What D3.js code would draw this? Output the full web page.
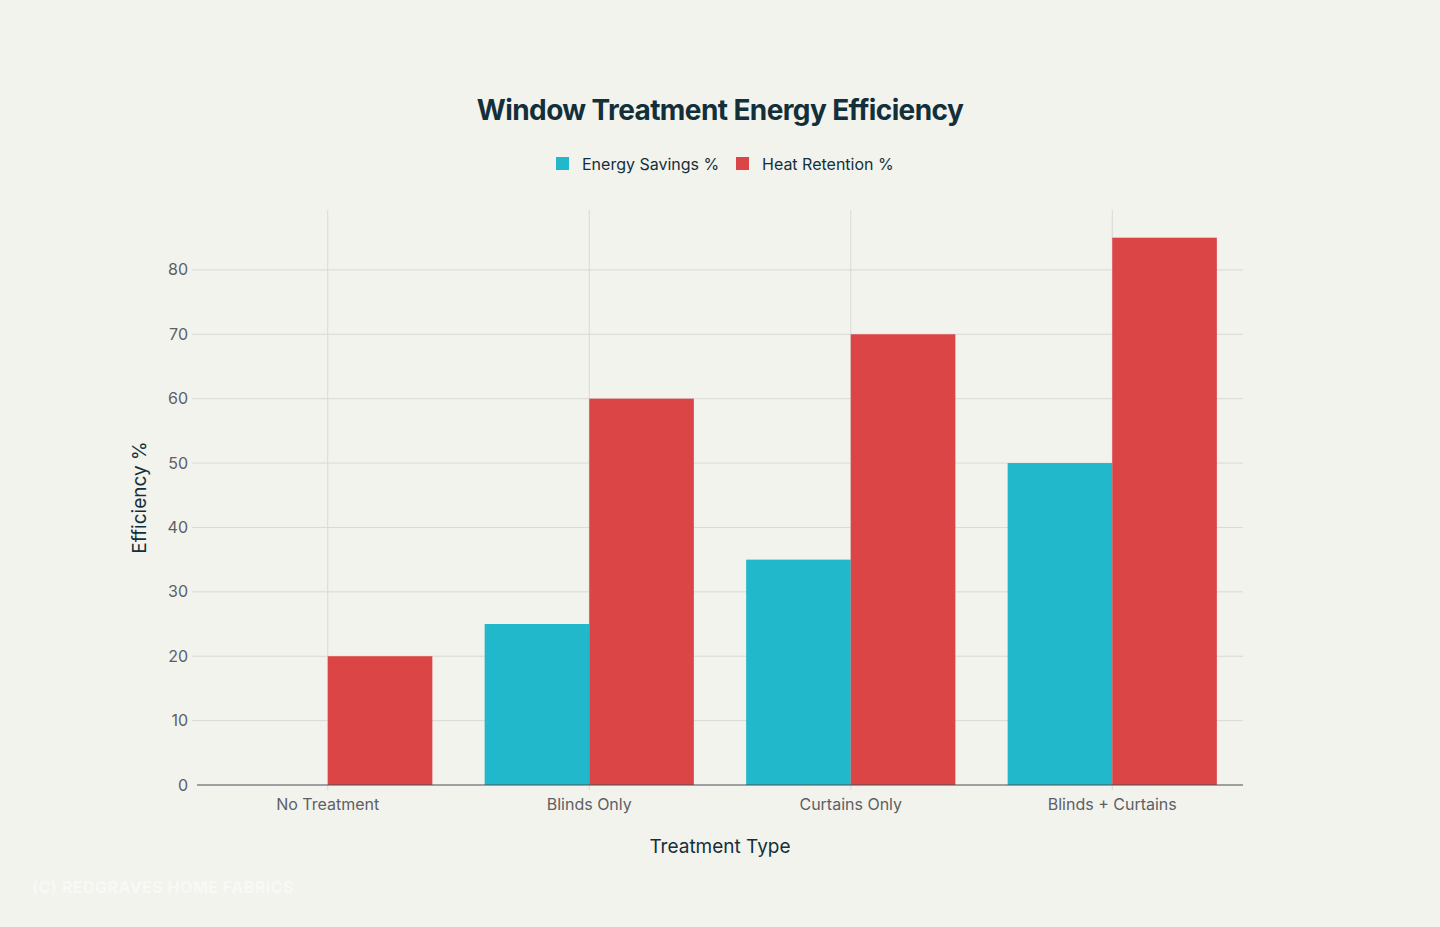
<!DOCTYPE html>
<html>
<head>
<meta charset="utf-8">
<script src="https://cdn.jsdelivr.net/npm/d3@7"></script>
<style>
  body { margin: 0; background: #f3f3ee; }
  svg { font-family: Inter, "Noto Sans", sans-serif; }
</style>
</head>
<body>
<svg class="chart" width="1440" height="927"></svg>
<script>
const categories = ["No Treatment", "Blinds Only", "Curtains Only", "Blinds + Curtains"];
const seriesNames = ["Energy Savings %", "Heat Retention %"];
const energySavings = [0, 25, 35, 50];
const heatRetention = [20, 60, 70, 85];
const yTicks = [0, 10, 20, 30, 40, 50, 60, 70, 80];
const colors = ["#21b8cb", "#db4545"];

let svg = d3.select("svg.chart"),
    margin = {top: 210, bottom: 142, left: 197, right: 197},
    width = +svg.attr("width"),
    height = +svg.attr("height");

let rows = categories.map((c, i) => ({cat: c, vals: [energySavings[i], heatRetention[i]]}));

// full band per category
let xc = d3.scaleBand()
    .domain(categories)
    .range([margin.left, width - margin.right]);

// bars take 80% of the band
let x1 = d3.scaleBand()
    .domain([0, 1])
    .range([0, xc.bandwidth() * 0.8]);

let y = d3.scaleLinear()
    .domain([0, 89.3])
    .range([height - margin.bottom, margin.top]);

// horizontal grid
svg.append("g")
    .selectAll("line")
    .data(yTicks.filter(d => d > 0))
    .join("line")
    .attr("x1", margin.left - 5)
    .attr("x2", width - margin.right)
    .attr("y1", d => y(d))
    .attr("y2", d => y(d))
    .style("stroke", "#d9d9d4")
    .style("stroke-width", 1);

// vertical grid at category centres
svg.append("g")
    .selectAll("line")
    .data(categories)
    .join("line")
    .attr("x1", d => xc(d) + xc.bandwidth() / 2)
    .attr("x2", d => xc(d) + xc.bandwidth() / 2)
    .attr("y1", margin.top)
    .attr("y2", height - margin.bottom + 5)
    .style("stroke", "#d9d9d4")
    .style("stroke-width", 1);

// bars
let groups = svg.append("g")
    .selectAll("g")
    .data(rows)
    .join("g")
    .attr("transform", d => "translate(" + (xc(d.cat) + xc.bandwidth() * 0.1) + ",0)");

groups.selectAll("rect")
    .data(d => d.vals.map((v, i) => ({i: i, v: v})))
    .join("rect")
    .attr("x", d => x1(d.i))
    .attr("width", x1.bandwidth())
    .attr("y", d => y(d.v))
    .attr("height", d => y(0) - y(d.v))
    .style("fill", d => colors[d.i]);

// zero line
svg.append("line")
    .attr("x1", margin.left)
    .attr("x2", width - margin.right)
    .attr("y1", y(0))
    .attr("y2", y(0))
    .style("stroke", "#4a4f52")
    .style("stroke-width", 1.2);

// y tick labels
svg.append("g")
    .selectAll("text")
    .data(yTicks)
    .join("text")
    .attr("x", margin.left - 9)
    .attr("y", d => y(d))
    .attr("dy", "0.35em")
    .style("text-anchor", "end")
    .style("font-size", "16px")
    .style("fill", "#5c6064")
    .text(d => d);

// x tick labels
svg.append("g")
    .selectAll("text")
    .data(categories)
    .join("text")
    .attr("x", d => xc(d) + xc.bandwidth() / 2)
    .attr("y", y(0) + 25)
    .style("text-anchor", "middle")
    .style("font-size", "16px")
    .style("fill", "#5c6064")
    .text(d => d);

// axis titles
svg.append("text")
    .attr("x", width / 2)
    .attr("y", 853)
    .style("text-anchor", "middle")
    .style("font-size", "19px")
    .style("fill", "#13303a")
    .text("Treatment Type");

svg.append("text")
    .attr("transform", "rotate(-90)")
    .attr("x", -(y(0) + margin.top) / 2)
    .attr("y", 146)
    .style("text-anchor", "middle")
    .style("font-size", "19px")
    .style("fill", "#13303a")
    .text("Efficiency %");

// title
svg.append("text")
    .attr("x", width / 2)
    .attr("y", 120)
    .style("text-anchor", "middle")
    .style("font-size", "28px")
    .style("font-weight", "bold")
    .style("letter-spacing", "-0.6px")
    .style("fill", "#13303a")
    .text("Window Treatment Energy Efficiency");

// legend
let legendX = [556, 736];
let leg = svg.append("g")
    .selectAll("g")
    .data(seriesNames)
    .join("g")
    .attr("transform", (d, i) => "translate(" + legendX[i] + ",157)");
leg.append("rect")
    .attr("width", 13)
    .attr("height", 13)
    .style("fill", (d, i) => colors[i]);
leg.append("text")
    .attr("x", 26)
    .attr("y", 7)
    .attr("dy", "0.35em")
    .style("font-size", "16px")
    .style("fill", "#13303a")
    .text(d => d);

// watermark
svg.append("text")
    .attr("x", 32)
    .attr("y", 893)
    .style("font-size", "16px")
    .style("font-weight", "bold")
    .style("letter-spacing", "0.5px")
    .style("fill", "#ffffff")
    .style("opacity", 0.45)
    .text("(C) REDGRAVES HOME FABRICS");
</script>
</body>
</html>
